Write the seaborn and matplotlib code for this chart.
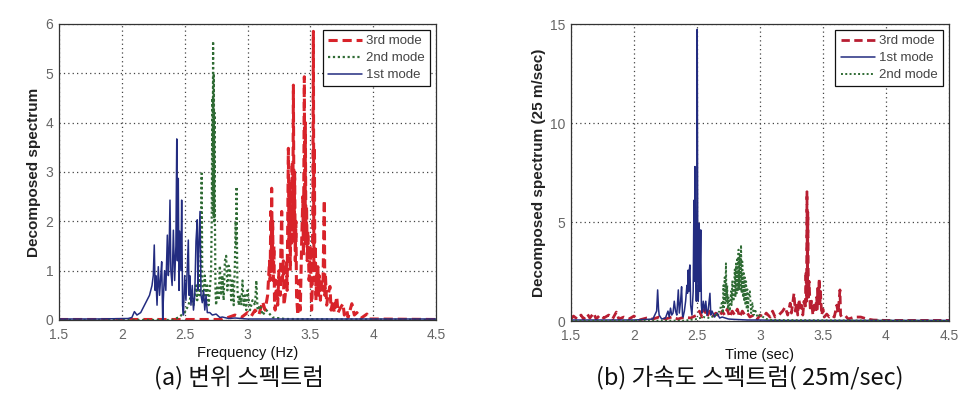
import numpy as np
import pandas as pd
import matplotlib
matplotlib.use("Agg")
import matplotlib.pyplot as plt
import seaborn as sns

# ---------------- data: (a) displacement spectrum ----------------
a_m1_f = [1.50, 1.80, 2.05, 2.08, 2.10, 2.12, 2.15, 2.18, 2.20, 2.22, 2.24, 2.25, 2.258, 2.265, 2.27, 2.28,
          2.29, 2.30, 2.31, 2.317, 2.325, 2.33, 2.34, 2.35, 2.362, 2.37, 2.375, 2.383, 2.39, 2.40, 2.41,
          2.42, 2.43, 2.437, 2.442, 2.449, 2.455, 2.46, 2.47, 2.476, 2.483, 2.49, 2.50, 2.51, 2.52, 2.529,
          2.535, 2.54, 2.55, 2.56, 2.57, 2.58, 2.59, 2.60, 2.605, 2.61, 2.622, 2.63, 2.64, 2.65, 2.66, 2.67,
          2.68, 2.70, 2.72, 2.75, 2.78, 2.80, 2.85, 2.90, 3.00, 3.50, 4.00, 4.50]
a_m1_v = [0.02, 0.02, 0.03, 0.05, 0.17, 0.10, 0.15, 0.30, 0.40, 0.50, 0.70, 0.90, 1.52, 0.60, 0.90, 0.30,
          1.08, 0.50, 0.90, 1.18, 0.00, 0.40, 1.00, 0.60, 1.72, 0.90, 1.20, 2.43, 1.00, 0.70, 1.82,
          0.80, 1.50, 3.67, 1.20, 2.87, 0.60, 1.80, 1.00, 2.43, 0.30, 0.10, 0.90, 0.40, 1.00, 1.62,
          0.50, 0.90, 0.30, 0.70, 0.20, 0.50, 1.60, 2.03, 0.60, 1.30, 2.20, 0.50, 0.35, 0.60, 0.20, 0.50,
          0.15, 0.15, 0.10, 0.12, 0.05, 0.06, 0.03, 0.04, 0.02, 0.02, 0.02, 0.02]

a_m2_f = [1.50, 2.40, 2.45, 2.50, 2.53, 2.55, 2.57, 2.59, 2.60, 2.61, 2.62, 2.63, 2.635, 2.64, 2.65, 2.66,
          2.67, 2.68, 2.69, 2.70, 2.71, 2.715, 2.72, 2.723, 2.726, 2.729, 2.732, 2.735, 2.738, 2.741, 2.745,
          2.75, 2.76, 2.77, 2.78, 2.79, 2.80, 2.81, 2.82, 2.83, 2.84, 2.85, 2.86, 2.87, 2.88, 2.89, 2.90,
          2.905, 2.91, 2.913, 2.917, 2.92, 2.93, 2.94, 2.95, 2.96, 2.97, 2.98, 2.99, 3.00, 3.02, 3.04, 3.06,
          3.07, 3.08, 3.10, 3.12, 3.15, 3.20, 3.30, 4.50]
a_m2_v = [0.00, 0.00, 0.05, 0.15, 0.30, 0.50, 0.30, 0.70, 0.40, 1.00, 0.50, 1.50, 2.97, 0.80, 0.40, 0.90,
          0.50, 0.70, 0.30, 0.60, 1.00, 2.00, 4.50, 2.20, 5.65, 2.10, 5.00, 2.00, 4.20, 1.90, 0.60,
          0.30, 0.70, 0.40, 1.10, 0.50, 0.90, 0.40, 1.20, 1.30, 0.60, 1.10, 1.00, 0.40, 0.80, 0.30, 1.20,
          2.00, 1.50, 2.70, 1.30, 0.60, 0.30, 0.50, 0.30, 0.80, 0.30, 0.50, 0.20, 0.60, 0.20, 0.40, 0.30,
          0.80, 0.20, 0.30, 0.10, 0.20, 0.05, 0.02, 0.00]

a_m3_f = [1.50, 2.80, 2.90, 2.95, 3.00, 3.03, 3.06, 3.09, 3.12, 3.14, 3.16, 3.175, 3.18, 3.185, 3.19, 3.192,
          3.196, 3.20, 3.205, 3.21, 3.215, 3.22, 3.23, 3.24, 3.25, 3.26, 3.265, 3.272, 3.278, 3.285, 3.29,
          3.30, 3.31, 3.315, 3.32, 3.325, 3.33, 3.335, 3.34, 3.345, 3.35, 3.355, 3.36, 3.365, 3.37, 3.375,
          3.38, 3.385, 3.39, 3.40, 3.41, 3.42, 3.43, 3.44, 3.445, 3.452, 3.456, 3.46, 3.465, 3.47, 3.475,
          3.48, 3.49, 3.50, 3.51, 3.515, 3.52, 3.524, 3.528, 3.532, 3.536, 3.54, 3.545, 3.55, 3.56, 3.565,
          3.57, 3.58, 3.59, 3.60, 3.605, 3.611, 3.615, 3.62, 3.63, 3.64, 3.656, 3.665, 3.68, 3.69, 3.71,
          3.72, 3.74, 3.76, 3.77, 3.79, 3.80, 3.83, 3.85, 3.87, 3.90, 3.95, 3.97, 4.00, 4.50]
a_m3_v = [0.01, 0.01, 0.10, 0.05, 0.15, 0.08, 0.20, 0.10, 0.37, 0.20, 0.50, 1.20, 0.80, 2.20, 1.30, 2.67,
          1.10, 2.00, 0.80, 1.50, 0.30, 0.20, 0.80, 0.30, 1.00, 0.50, 1.40, 2.20, 0.80, 1.20, 0.30,
          0.50, 1.20, 0.60, 2.00, 3.48, 1.50, 2.80, 1.00, 2.50, 1.50, 3.20, 1.80, 4.76, 1.60, 3.00,
          1.20, 2.00, 0.50, 0.10, 0.80, 0.20, 1.50, 2.50, 1.30, 4.93, 1.80, 4.00, 1.50, 2.30, 1.20,
          1.80, 0.80, 1.50, 0.20, 0.60, 2.50, 5.85, 1.00, 3.50, 0.80, 1.50, 0.40, 0.90, 1.08, 0.50,
          0.90, 0.40, 0.80, 0.60, 1.50, 2.43, 0.50, 0.90, 0.30, 0.50, 0.68, 0.20, 0.40, 0.15, 0.47,
          0.15, 0.25, 0.33, 0.10, 0.20, 0.05, 0.33, 0.10, 0.15, 0.03, 0.12, 0.02, 0.02, 0.01]

# ---------------- data: (b) acceleration spectrum ----------------
b_m1_f = [1.50, 2.00, 2.10, 2.15, 2.18, 2.188, 2.195, 2.20, 2.22, 2.25, 2.27, 2.28, 2.29, 2.30, 2.31, 2.32,
          2.33, 2.34, 2.352, 2.36, 2.37, 2.378, 2.385, 2.39, 2.40, 2.41, 2.42, 2.425, 2.43, 2.435, 2.44,
          2.444, 2.45, 2.46, 2.47, 2.476, 2.48, 2.484, 2.49, 2.495, 2.50, 2.502, 2.506, 2.51, 2.515, 2.518,
          2.522, 2.526, 2.53, 2.535, 2.54, 2.55, 2.56, 2.57, 2.58, 2.59, 2.603, 2.61, 2.62, 2.64, 2.66,
          2.68, 2.70, 2.75, 2.80, 2.90, 3.00, 3.20, 4.50]
b_m1_v = [0.05, 0.05, 0.08, 0.10, 0.50, 1.57, 0.60, 0.30, 0.10, 0.15, 0.50, 0.20, 0.65, 0.30, 0.40, 1.00,
          0.50, 0.30, 1.57, 0.40, 1.00, 1.73, 0.30, 0.20, 0.50, 1.00, 1.80, 1.40, 2.57, 1.50, 2.60,
          2.83, 0.80, 0.30, 1.50, 6.10, 2.00, 7.80, 3.00, 1.00, 5.00, 14.73, 4.00, 1.00, 2.00, 4.93,
          1.50, 3.00, 4.60, 0.80, 0.40, 1.00, 0.50, 1.00, 0.30, 0.60, 1.40, 0.30, 0.50, 0.20, 0.40,
          0.15, 0.20, 0.10, 0.08, 0.05, 0.05, 0.03, 0.03]

b_m2_f = [1.50, 2.40, 2.50, 2.55, 2.60, 2.65, 2.68, 2.70, 2.705, 2.71, 2.715, 2.72, 2.725, 2.73, 2.735, 2.74,
          2.745, 2.75, 2.76, 2.77, 2.775, 2.78, 2.79, 2.80, 2.805, 2.81, 2.815, 2.82, 2.825, 2.83, 2.835,
          2.84, 2.845, 2.85, 2.855, 2.86, 2.865, 2.87, 2.875, 2.88, 2.885, 2.89, 2.895, 2.90, 2.905, 2.91,
          2.92, 2.93, 2.94, 2.95, 2.96, 2.98, 3.00, 3.05, 3.10, 4.50]
b_m2_v = [0.00, 0.02, 0.10, 0.20, 0.15, 0.30, 0.50, 1.00, 0.40, 1.80, 0.70, 2.20, 0.90, 2.91, 1.00, 1.80,
          0.60, 1.20, 0.50, 1.50, 0.80, 2.00, 1.00, 2.60, 1.20, 2.90, 1.40, 3.20, 1.50, 3.60, 1.60,
          3.30, 1.50, 3.84, 1.40, 3.00, 1.20, 2.50, 1.00, 2.20, 0.80, 2.00, 0.60, 1.60, 0.50, 1.20,
          1.50, 0.40, 0.90, 0.30, 0.60, 0.20, 0.30, 0.10, 0.05, 0.00]

b_m3_f = [1.50, 1.52, 1.55, 1.58, 1.60, 1.63, 1.65, 1.68, 1.70, 1.73, 1.76, 1.80, 1.83, 1.86, 1.88, 1.92,
          1.96, 2.00, 2.04, 2.10, 2.15, 2.20, 2.25, 2.30, 2.35, 2.40, 2.45, 2.50, 2.52, 2.54, 2.56, 2.58,
          2.60, 2.62, 2.65, 2.68, 2.70, 2.72, 2.74, 2.76, 2.78, 2.80, 2.82, 2.84, 2.86, 2.88, 2.90, 2.92,
          2.95, 2.98, 3.00, 3.03, 3.05, 3.08, 3.10, 3.12, 3.15, 3.18, 3.20, 3.22, 3.24, 3.25, 3.27, 3.28,
          3.29, 3.30, 3.31, 3.32, 3.33, 3.34, 3.35, 3.36, 3.365, 3.37, 3.373, 3.377, 3.38, 3.385, 3.39,
          3.40, 3.41, 3.42, 3.43, 3.44, 3.45, 3.455, 3.46, 3.465, 3.47, 3.475, 3.48, 3.49, 3.50, 3.51,
          3.53, 3.55, 3.57, 3.59, 3.61, 3.62, 3.63, 3.635, 3.64, 3.65, 3.68, 3.70, 3.75, 3.80, 3.85,
          3.90, 4.00, 4.50]
b_m3_v = [0.10, 0.25, 0.10, 0.30, 0.10, 0.35, 0.15, 0.40, 0.10, 0.30, 0.15, 0.30, 0.10, 0.45, 0.10, 0.20,
          0.10, 0.25, 0.05, 0.15, 0.10, 0.20, 0.10, 0.20, 0.10, 0.20, 0.15, 0.30, 0.50, 0.20, 0.60, 0.20,
          0.50, 0.20, 0.40, 0.20, 0.50, 0.30, 0.60, 0.20, 0.50, 0.30, 0.60, 0.20, 0.50, 0.30, 0.40, 0.20,
          0.30, 0.10, 0.30, 0.20, 0.40, 0.20, 0.50, 0.20, 0.30, 0.50, 0.70, 0.30, 0.90, 0.40, 1.40, 0.50,
          0.90, 0.30, 1.10, 0.50, 0.80, 0.30, 1.00, 0.60, 2.50, 1.00, 6.53, 1.50, 5.50, 1.20, 2.00,
          0.50, 1.00, 0.30, 0.80, 0.50, 1.20, 0.60, 1.80, 1.00, 2.15, 0.80, 1.50, 0.30, 0.60, 0.20,
          0.35, 0.20, 0.30, 0.20, 0.80, 0.40, 1.20, 1.57, 0.30, 0.20, 0.25, 0.10, 0.20, 0.20, 0.10,
          0.05, 0.03, 0.03]

x_ticks = [1.5, 2.0, 2.5, 3.0, 3.5, 4.0, 4.5]
x_tick_labels = ["1.5", "2", "2.5", "3", "3.5", "4", "4.5"]
a_y_ticks = [0, 1, 2, 3, 4, 5, 6]
b_y_ticks = [0, 5, 10, 15]

# ---------------- style ----------------
sns.set_theme(style="white")
plt.rcParams["font.family"] = ["Liberation Sans", "DejaVu Sans"]

RED_A = "#D8232A"
RED_B = "#B81E32"
GREEN = "#2F6B34"
NAVY = "#232C80"

fig = plt.figure(figsize=(9.77, 4.07), dpi=100)
ax1 = fig.add_axes([0.0604, 0.2138, 0.3859, 0.7273])
ax2 = fig.add_axes([0.5844, 0.2113, 0.3869, 0.7297])

dash = (0, (3.0, 1.6))
dot = (0, (1.0, 1.2))

# (a)
sns.lineplot(x=a_m3_f, y=a_m3_v, ax=ax1, color=RED_A, linestyle=dash, linewidth=2.2,
             label="3rd mode", sort=False, estimator=None)
sns.lineplot(x=a_m2_f, y=a_m2_v, ax=ax1, color=GREEN, linestyle=dot, linewidth=1.6,
             label="2nd mode", sort=False, estimator=None)
sns.lineplot(x=a_m1_f, y=a_m1_v, ax=ax1, color=NAVY, linestyle="-", linewidth=1.1,
             label="1st mode", sort=False, estimator=None)

# (b)
sns.lineplot(x=b_m3_f, y=b_m3_v, ax=ax2, color=RED_B, linestyle=dash, linewidth=2.0,
             label="3rd mode", sort=False, estimator=None)
sns.lineplot(x=b_m1_f, y=b_m1_v, ax=ax2, color=NAVY, linestyle="-", linewidth=1.1,
             label="1st mode", sort=False, estimator=None)
sns.lineplot(x=b_m2_f, y=b_m2_v, ax=ax2, color=GREEN, linestyle=dot, linewidth=1.4,
             label="2nd mode", sort=False, estimator=None)

for ax, yt, ymax in [(ax1, a_y_ticks, 6), (ax2, b_y_ticks, 15)]:
    ax.set_xlim(1.5, 4.5)
    ax.set_ylim(0, ymax)
    ax.set_xticks(x_ticks)
    ax.set_xticklabels(x_tick_labels)
    ax.set_yticks(yt)
    ax.set_yticklabels([str(t) for t in yt])
    ax.grid(True, linestyle=(0, (1, 2.5)), color="#444444", linewidth=0.9)
    ax.set_axisbelow(True)
    ax.tick_params(axis="both", direction="in", length=3, labelsize=10,
                   labelcolor="#666666", color="#333333")
    ax.tick_params(axis="x", pad=6)
    ax.tick_params(axis="y", pad=4)
    for sp in ax.spines.values():
        sp.set_color("#333333")
        sp.set_linewidth(0.9)
    leg = ax.legend(loc="upper right", fontsize=9.5, frameon=True, fancybox=False,
                    edgecolor="#111111", framealpha=1, handlelength=2.6,
                    labelspacing=0.35, borderpad=0.4, handletextpad=0.3,
                    borderaxespad=0.45)
    leg.get_frame().set_linewidth(0.9)
    for t in leg.get_texts():
        t.set_color("#444444")

ax1.set_xlabel("Frequency (Hz)", fontsize=10.5, labelpad=3, color="#111111")
ax1.set_ylabel("Decomposed spectrum", fontsize=11, fontweight="bold", labelpad=3, color="#222222")
ax2.set_xlabel("Time (sec)", fontsize=10.5, labelpad=3, color="#111111")
ax2.set_ylabel("Decomposed spectrum (25 m/sec)", fontsize=11, fontweight="bold", labelpad=3,
               color="#222222")

cap_font = ["Noto Sans CJK KR", "DejaVu Sans"]
fig.text(0.245, 0.071, "(a) 변위 스펙트럼", ha="center", va="center", fontsize=17,
         family=cap_font, color="#111111")
fig.text(0.767, 0.071, "(b) 가속도 스펙트럼( 25m/sec)", ha="center", va="center", fontsize=17,
         family=cap_font, color="#111111")

fig.savefig("out.png", dpi=100)
